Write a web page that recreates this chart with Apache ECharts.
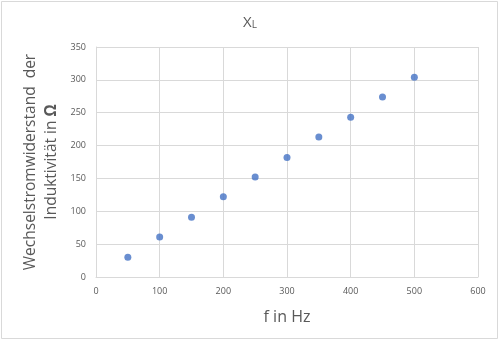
<!DOCTYPE html>
<html><head><meta charset="utf-8">
<script src="https://cdn.jsdelivr.net/npm/echarts@6/dist/echarts.min.js"></script>
<style>html,body{margin:0;padding:0;background:#fff}#c{width:500px;height:341px}</style>
</head><body><div id="c"></div>
<script>
const frequencies = [50, 100, 150, 200, 250, 300, 350, 400, 450, 500];
const reactance = [30, 61, 91, 122, 152, 182, 213, 243, 274, 304];
const xTicks = [0, 100, 200, 300, 400, 500, 600];
const yTicks = [0, 50, 100, 150, 200, 250, 300, 350];

const font = 'Open Sans';
const chart = echarts.init(document.getElementById('c'), null, {renderer: 'canvas'});
chart.setOption({
  animation: false,
  backgroundColor: '#fff',
  graphic: [{
    type: 'rect', shape: {x: 1.5, y: 1.5, width: 496, height: 337},
    style: {fill: 'none', stroke: '#d9d9d9', lineWidth: 1}, silent: true
  }],
  title: {
    text: '{x|X}{s|L}', left: 'center', top: 10,
    textStyle: {fontWeight: 'normal', rich: {
      x: {fontFamily: font, fontSize: 15, fontWeight: 'normal', color: '#595959', verticalAlign: 'bottom'},
      s: {fontFamily: font, fontSize: 10, fontWeight: 'normal', color: '#595959', verticalAlign: 'bottom'}
    }}
  },
  grid: {left: 96, right: 22, top: 47, bottom: 64},
  xAxis: {
    type: 'value', min: xTicks[0], max: xTicks[xTicks.length-1], interval: 100,
    name: 'f in Hz', nameLocation: 'middle', nameGap: 32,
    nameTextStyle: {fontFamily: font, fontSize: 16, color: '#595959'},
    axisLine: {show: true, lineStyle: {color: '#d9d9d9'}},
    axisTick: {show: false},
    axisLabel: {fontFamily: font, fontSize: 9, color: '#595959', margin: 10},
    splitLine: {show: true, lineStyle: {color: '#d9d9d9', width: 1}}
  },
  yAxis: {
    type: 'value', min: yTicks[0], max: yTicks[yTicks.length-1], interval: 50,
    name: '{a|Wechselstromwiderstand  der}\n{a|Induktivität in }{b|Ω}',
    nameLocation: 'middle', nameGap: 34, nameRotate: 90,
    nameTextStyle: {rich: {
      a: {fontFamily: font, fontSize: 15.5, color: '#595959', lineHeight: 21},
      b: {fontFamily: font, fontSize: 15.5, fontWeight: 'bold', color: '#595959', lineHeight: 21}
    }},
    axisLine: {show: true, lineStyle: {color: '#d9d9d9'}},
    axisTick: {show: false},
    axisLabel: {fontFamily: font, fontSize: 9, color: '#595959', margin: 10},
    splitLine: {show: true, lineStyle: {color: '#d9d9d9', width: 1}}
  },
  series: [{
    type: 'scatter',
    data: frequencies.map((f, i) => [f, reactance[i]]),
    symbol: 'circle', symbolSize: 7,
    itemStyle: {color: '#4472C4'}
  }]
});
</script></body></html>
